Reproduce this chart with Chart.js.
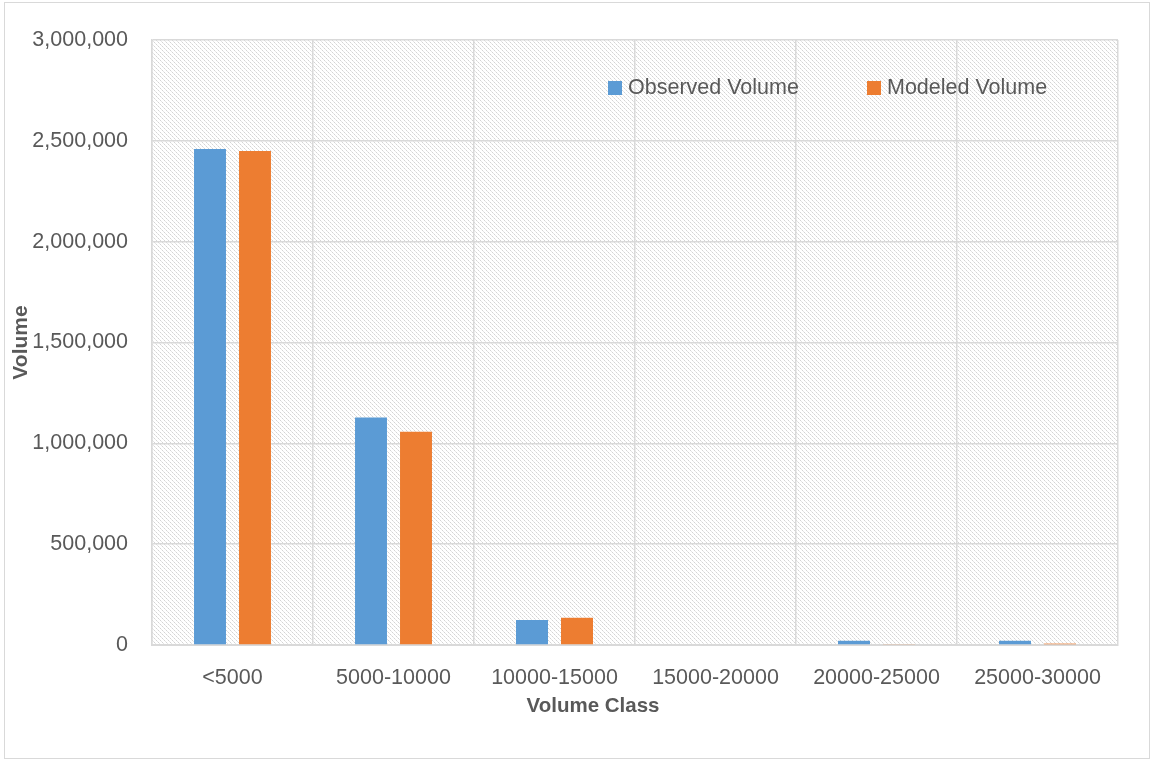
<!DOCTYPE html>
<html>
<head>
<meta charset="utf-8">
<script src="https://cdn.jsdelivr.net/npm/chart.js@4/dist/chart.umd.min.js"></script>
<style>
html,body{margin:0;padding:0;background:#fff;}
#wrap{width:1151px;height:761px;position:relative;}
</style>
</head>
<body>
<div id="wrap"><canvas id="c" width="1151" height="761"></canvas></div>
<script>
const categories = ['<5000', '5000-10000', '10000-15000', '15000-20000', '20000-25000', '25000-30000'];
const observedVolume = [2460000, 1128000, 124000, 0, 21000, 21000];
const modeledVolume = [2450000, 1058000, 135000, 0, 3000, 7000];
const seriesNames = ['Observed Volume', 'Modeled Volume'];
const seriesColors = ['#5B9BD5', '#ED7D31'];
const yTickMax = 3000000;
const yTickStep = 500000;
const xTitle = 'Volume Class';
const yTitle = 'Volume';

const FONT = "'Liberation Sans', Arial, sans-serif";
const TEXT = '#595959';
const GRID = '#d9d9d9';

function makePattern(ctx) {
  const n = 8;
  const c = document.createElement('canvas');
  c.width = n; c.height = n;
  const p = c.getContext('2d');
  p.fillStyle = '#ffffff';
  p.fillRect(0, 0, n, n);
  for (let y = 0; y < n; y++) {
    for (let x = 0; x < n; x++) {
      const d = ((x - y) % 4 + 4) % 4;
      if (d === 0) {
        p.fillStyle = (y % 2 === 0) ? '#d4d4d4' : '#e6e6e6';
        p.fillRect(x, y, 1, 1);
      }
    }
  }
  return ctx.createPattern(c, 'repeat');
}

const decor = {
  id: 'decor',
  beforeDraw(chart) {
    const ctx = chart.ctx, a = chart.chartArea;
    ctx.save();
    ctx.fillStyle = '#ffffff';
    ctx.fillRect(0, 0, chart.width, chart.height);
    ctx.strokeStyle = GRID;
    ctx.lineWidth = 1;
    ctx.strokeRect(4.5, 2.5, 1145, 756);
    ctx.fillStyle = makePattern(ctx);
    ctx.fillRect(a.left, a.top, a.right - a.left, a.bottom - a.top);
    ctx.restore();
  },
  afterDraw(chart) {
    const ctx = chart.ctx;
    ctx.save();
    ctx.font = "bold 20.5px " + FONT;
    ctx.fillStyle = TEXT;
    ctx.textAlign = 'center';
    ctx.textBaseline = 'middle';
    ctx.fillText(xTitle, 593, 706);
    ctx.font = "21.5px " + FONT;
    ctx.textAlign = 'left';
    const xs = [608, 867];
    chart.data.datasets.forEach((ds, i) => {
      const x = xs[i];
      ctx.fillStyle = ds.backgroundColor;
      ctx.fillRect(x, 81, 14, 14);
      ctx.fillStyle = TEXT;
      ctx.fillText(ds.label, x + 20, 88);
    });
    ctx.restore();
  }
};

new Chart(document.getElementById('c'), {
  type: 'bar',
  data: {
    labels: categories,
    datasets: [
      {label: seriesNames[0], data: observedVolume, backgroundColor: seriesColors[0]},
      {label: seriesNames[1], data: modeledVolume, backgroundColor: seriesColors[1]}
    ]
  },
  options: {
    responsive: false,
    animation: false,
    devicePixelRatio: 1,
    datasets: {bar: {categoryPercentage: 0.559, barPercentage: 0.71}},
    layout: {padding: {left: 0, top: 40, right: 33, bottom: 0}},
    plugins: {legend: {display: false}, tooltip: {enabled: false}},
    scales: {
      x: {
        grid: {color: GRID, lineWidth: 1.5, drawTicks: false, offset: true},
        border: {color: GRID, width: 2},
        ticks: {color: TEXT, font: {family: FONT, size: 21.5}, padding: 20, maxRotation: 0},
        afterFit(s) { s.height = 116; }
      },
      y: {
        min: 0, max: yTickMax,
        grid: {color: GRID, lineWidth: 1.5, drawTicks: false},
        border: {color: GRID, width: 1.5},
        ticks: {
          stepSize: yTickStep,
          color: TEXT, font: {family: FONT, size: 21.5}, padding: 24,
          callback: v => v.toLocaleString('en-US')
        },
        title: {display: true, text: yTitle, color: TEXT, font: {family: FONT, size: 21, weight: 'bold'}, padding: {top: 9, bottom: 0}},
        afterFit(s) { s.width = 152; }
      }
    }
  },
  plugins: [decor]
});
</script>
</body>
</html>
